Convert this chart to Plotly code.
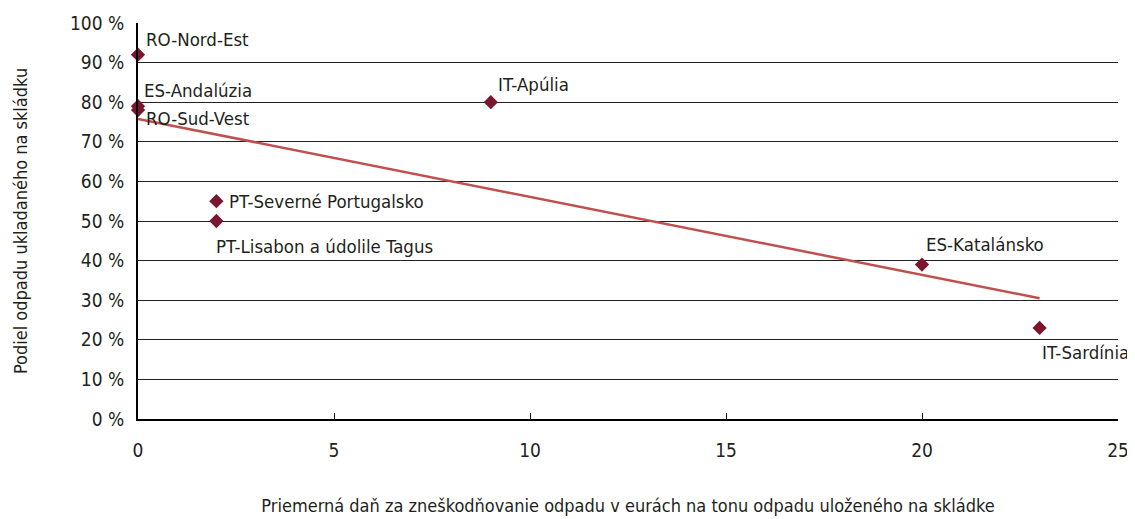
import numpy as np
import plotly.graph_objects as go

regions = ["RO-Nord-Est", "ES-Andalúzia", "RO-Sud-Vest", "IT-Apúlia",
           "PT-Severné Portugalsko", "PT-Lisabon a údolile Tagus",
           "ES-Katalánsko", "IT-Sardínia"]
tax_eur = [0, 0, 0, 9, 2, 2, 20, 23]
landfill_share = [92, 79, 78, 80, 55, 50, 39, 23]
y_ticks = [0, 10, 20, 30, 40, 50, 60, 70, 80, 90, 100]
y_tick_labels = [f"{v} %" for v in y_ticks]
x_ticks = [0, 5, 10, 15, 20, 25]

# label offsets (pixels) - styling only
label_offsets = {
    "RO-Nord-Est": (6, 15),
    "ES-Andalúzia": (4, 16),
    "RO-Sud-Vest": (6, -8),
    "IT-Apúlia": (5, 18),
    "PT-Severné Portugalsko": (11, 0),
    "PT-Lisabon a údolile Tagus": (-2, -25),
    "ES-Katalánsko": (2, 20),
    "IT-Sardínia": (0, -25),
}

FONT = "DejaVu Sans Condensed, Liberation Sans Narrow, sans-serif"
TXT = "#231f20"

slope, intercept = np.polyfit(tax_eur, landfill_share, 1)
tx = np.array([min(tax_eur), max(tax_eur)])
ty = slope * tx + intercept

fig = go.Figure()
fig.add_trace(go.Scatter(x=tx, y=ty, mode="lines",
                         line=dict(color="#c0504d", width=2.5),
                         hoverinfo="skip", showlegend=False, cliponaxis=False))
fig.add_trace(go.Scatter(x=tax_eur, y=landfill_share, mode="markers",
                         marker=dict(symbol="diamond", size=11, color="#7a1630"),
                         text=regions, showlegend=False, cliponaxis=False))

for name, xv, yv in zip(regions, tax_eur, landfill_share):
    dx, dy = label_offsets[name]
    fig.add_annotation(x=xv, y=yv, text=name, showarrow=False,
                       xanchor="left", yanchor="middle", xshift=dx, yshift=dy,
                       font=dict(family=FONT, size=18.5, color=TXT))

# page body has an 8px margin, so the figure is sized to fit the window
fig.update_layout(
    width=1127, height=511,
    margin=dict(l=130, r=17, t=15, b=100, autoexpand=False),
    paper_bgcolor="white", plot_bgcolor="white",
    font=dict(family=FONT, size=18, color=TXT),
    xaxis=dict(range=[0, 25], tickvals=x_ticks, showgrid=False, zeroline=False,
               showline=True, linecolor="black", linewidth=2,
               ticks="inside", ticklen=6, tickcolor="black", tickwidth=1,
               ticklabelstandoff=13, automargin=False,
               tickfont=dict(size=19, family=FONT, color=TXT),
               title=dict(text="Priemerná daň za zneškodňovanie odpadu v eurách na tonu odpadu uloženého na skládke",
                          font=dict(size=18, family=FONT, color=TXT), standoff=40)),
    yaxis=dict(range=[0, 100], tickvals=y_ticks, ticktext=y_tick_labels,
               showgrid=True, gridcolor="#222222", gridwidth=1.3,
               zeroline=False, showline=True, linecolor="black", linewidth=2,
               ticks="", ticklabelstandoff=8, automargin=False,
               tickfont=dict(size=19, family=FONT, color=TXT),
               title=dict(text="Podiel odpadu ukladaného na skládku",
                          font=dict(size=18, family=FONT, color=TXT), standoff=38)),
)

fig.write_html("out.html")
